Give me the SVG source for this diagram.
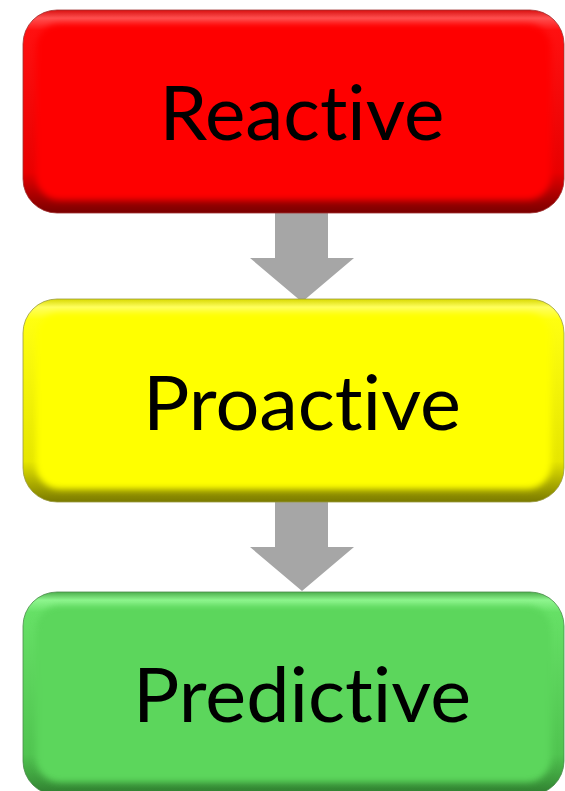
<svg xmlns="http://www.w3.org/2000/svg" width="565" height="791" viewBox="0 0 565 791">
  <style>
    .label { font-family: "Lato", "Liberation Sans", sans-serif; font-size: 75px; fill: #000; text-anchor: middle; font-variant-ligatures: none; font-feature-settings: "liga" 0, "clig" 0; }
    .arrow { fill: #a6a6a6; }
  </style>
  <defs>
    <filter id="soft" x="-5%" y="-10%" width="110%" height="120%">
      <feGaussianBlur stdDeviation="3"/>
    </filter>
    <linearGradient id="rimRed" x1="0" y1="0" x2="0" y2="1">
      <stop offset="0" stop-color="#d81010"/>
      <stop offset="0.04" stop-color="#ff5050"/>
      <stop offset="0.1" stop-color="#ff1010"/>
      <stop offset="0.8" stop-color="#e80000"/>
      <stop offset="0.93" stop-color="#a00000"/>
      <stop offset="1" stop-color="#7a0000"/>
    </linearGradient>
    <linearGradient id="rimYellow" x1="0" y1="0" x2="0" y2="1">
      <stop offset="0" stop-color="#d8d800"/>
      <stop offset="0.04" stop-color="#ffff60"/>
      <stop offset="0.1" stop-color="#ffff10"/>
      <stop offset="0.8" stop-color="#e6e600"/>
      <stop offset="0.93" stop-color="#a0a000"/>
      <stop offset="1" stop-color="#7a7a00"/>
    </linearGradient>
    <linearGradient id="rimGreen" x1="0" y1="0" x2="0" y2="1">
      <stop offset="0" stop-color="#4caf4c"/>
      <stop offset="0.04" stop-color="#8ef58e"/>
      <stop offset="0.1" stop-color="#66e066"/>
      <stop offset="0.8" stop-color="#50c450"/>
      <stop offset="0.93" stop-color="#3c9a3c"/>
      <stop offset="1" stop-color="#2e7a2e"/>
    </linearGradient>
  </defs>

  <g id="connectors">
    <polygon class="arrow" points="275,213 328,213 328,258 354,258 302,302 250,258 275,258"/>
    <polygon class="arrow" points="275,502 328,502 328,547 354,547 302,591 250,547 275,547"/>
  </g>

  <g id="reactive">
    <rect x="23" y="10" width="541" height="203" rx="34" fill="url(#rimRed)" stroke="#a03030" stroke-width="0.8"/>
    <rect x="36" y="24" width="515" height="176" rx="24" fill="#fe0606" filter="url(#soft)"/>
    <text class="label" x="302" y="140" textLength="285" lengthAdjust="spacingAndGlyphs">Reactive</text>
  </g>

  <g id="proactive">
    <rect x="23" y="299" width="541" height="203" rx="34" fill="url(#rimYellow)" stroke="#9a9a40" stroke-width="0.8"/>
    <rect x="36" y="313" width="515" height="176" rx="24" fill="#ffff00" filter="url(#soft)"/>
    <text class="label" x="302" y="430" textLength="318" lengthAdjust="spacingAndGlyphs">Proactive</text>
  </g>

  <g id="predictive">
    <rect x="23" y="592" width="541" height="203" rx="34" fill="url(#rimGreen)" stroke="#4a8a4a" stroke-width="0.8"/>
    <rect x="36" y="606" width="515" height="176" rx="24" fill="#5cd65c" filter="url(#soft)"/>
    <text class="label" x="302" y="722" textLength="338" lengthAdjust="spacingAndGlyphs">Predictive</text>
  </g>
</svg>
